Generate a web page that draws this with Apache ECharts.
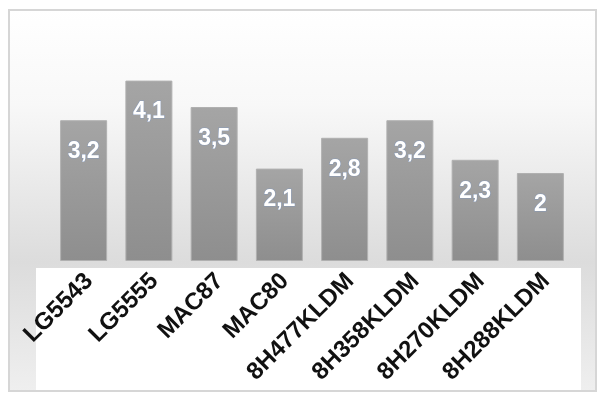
<!DOCTYPE html>
<html>
<head>
<meta charset="utf-8">
<style>html,body{margin:0;padding:0;background:#fff}#c{width:598px;height:396px}</style>
<script src="https://cdn.jsdelivr.net/npm/echarts@6/dist/echarts.min.js"></script>
</head>
<body>
<div id="c"></div>
<script>
var categories = ['LG5543','LG5555','MAC87','MAC80','8H477KLDM','8H358KLDM','8H270KLDM','8H288KLDM'];
var values = [3.2, 4.1, 3.5, 2.1, 2.8, 3.2, 2.3, 2];

var chart = echarts.init(document.getElementById('c'));
chart.setOption({
  animation: false,
  graphic: [
    {type:'rect', z:-20, shape:{x:9,y:10,width:587,height:381},
     style:{fill:{type:'linear',x:0,y:0,x2:0,y2:1,colorStops:[{offset:0,color:'#ffffff'},{offset:0.25,color:'#f8f8f8'},{offset:0.66,color:'#dcdcdc'},{offset:1,color:'#efefef'}]},
       stroke:'#d6d6d6', lineWidth:2}},
    {type:'rect', z:-15, shape:{x:36,y:268,width:545,height:122}, style:{fill:'#ffffff'}}
  ],
  grid: {left:51, right:25, top:41, bottom:135},
  xAxis: {
    type:'category', data:categories,
    axisLine:{show:false}, axisTick:{show:false},
    axisLabel:{rotate:45, interval:0, margin:22, padding:[0,-8,0,0], color:'#111', fontFamily:'Liberation Sans', fontWeight:'bold', fontSize:24}
  },
  yAxis: {type:'value', min:0, max:5, show:false, splitLine:{show:false}},
  series: [{
    type:'bar', data:values, barWidth:47,
    itemStyle:{color:{type:'linear',x:0,y:0,x2:0,y2:1,colorStops:[{offset:0,color:'#a5a5a5'},{offset:1,color:'#8e8e8e'}]},
      borderColor:'#b0b0b0', borderWidth:1},
    label:{show:true, position:'insideTop', distance:20, color:'#ffffff', fontFamily:'Liberation Sans', fontWeight:'bold', fontSize:23,
      textBorderColor:'rgba(120,150,200,0.6)', textBorderWidth:1,
      formatter:function(p){return String(p.value).replace('.', ',');}}
  }]
});
</script>
</body>
</html>
